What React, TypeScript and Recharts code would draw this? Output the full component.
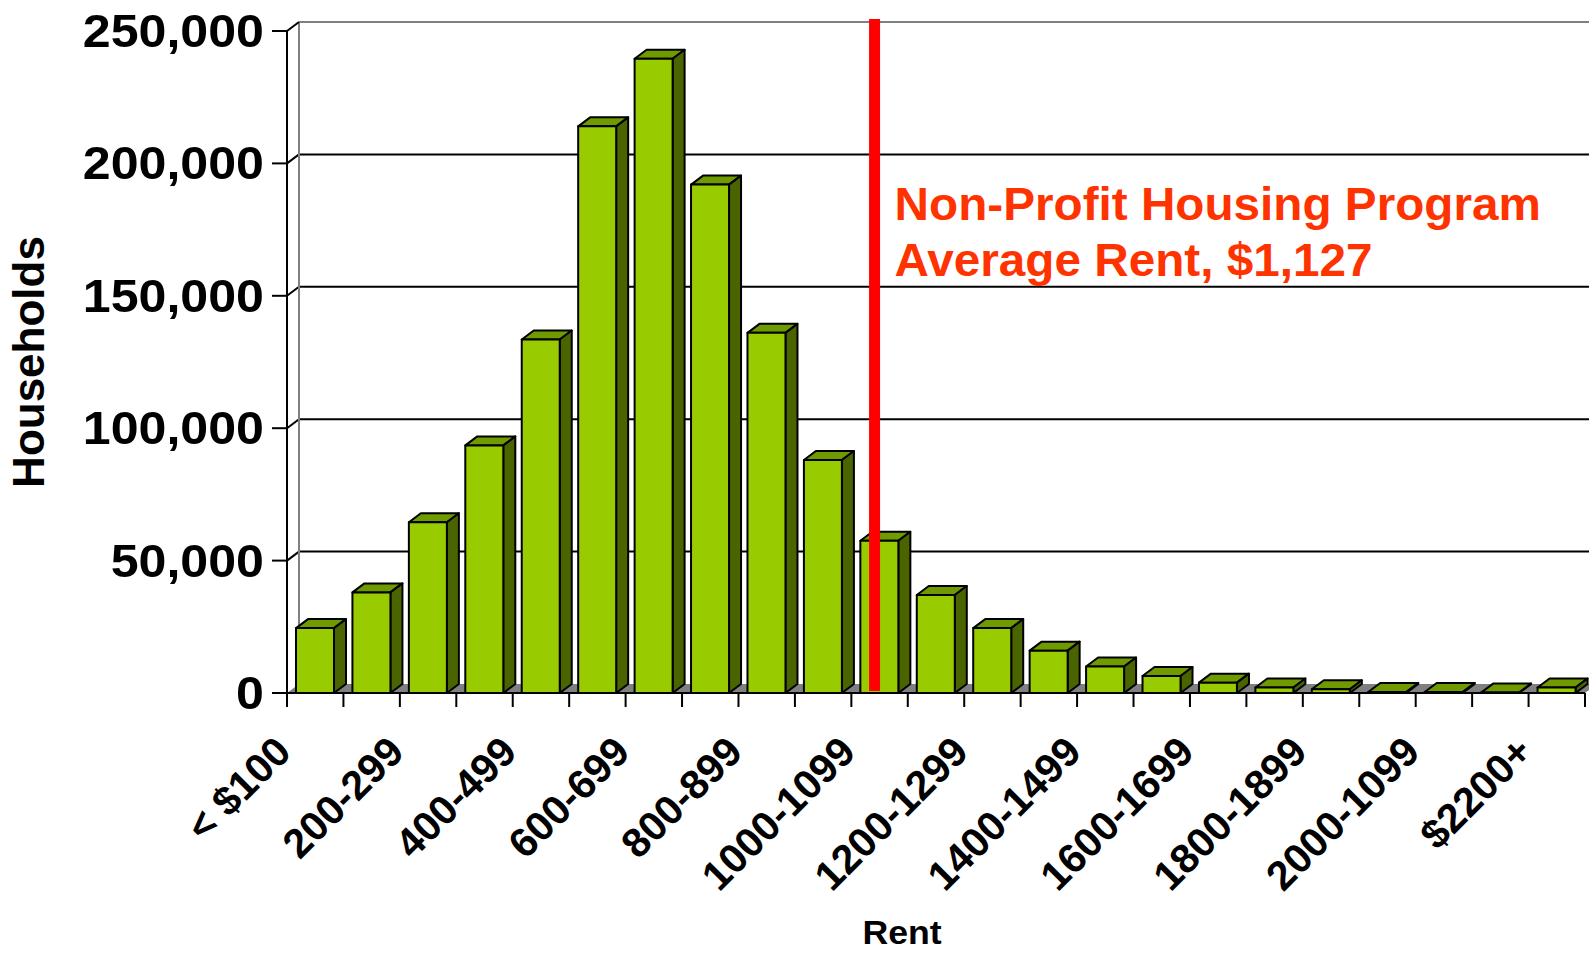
import React from 'react';
import { BarChart, Bar, XAxis, YAxis, CartesianGrid, ReferenceLine, Label } from 'recharts';

const categories = [
  '< $100', '100-199', '200-299', '300-399', '400-499', '500-599', '600-699',
  '700-799', '800-899', '900-999', '1000-1099', '1100-1199', '1200-1299',
  '1300-1399', '1400-1499', '1500-1599', '1600-1699', '1700-1799', '1800-1899',
  '1900-1999', '2000-1099', '2100-2199', '$2200+',
];
const households = [
  24500, 38000, 64500, 93500, 133500, 214000, 239500, 192000, 136000, 88000,
  57500, 37000, 24500, 16000, 10000, 6400, 3900, 2100, 1400, 400, 400, 150, 2100,
];
const yTicks = [0, 50000, 100000, 150000, 200000, 250000];
const markerCategory = '1000-1099';
const markerText = ['Non-Profit Housing Program', 'Average Rent, $1,127'];
const yAxisTitle = 'Households';
const xAxisTitle = 'Rent';

const data = categories.map((c, i) => ({ category: c, households: households[i] }));

const W = 1589;
const H = 954;
const PLOT_LEFT = 287;
const PLOT_RIGHT = 1585;
const PLOT_TOP = 31;
const PLOT_BOTTOM = 693;
const DX = 12;
const DY = 9;
const FONT = '"Liberation Sans", Arial, Helvetica, sans-serif';

const fmt = (v: number) => v.toLocaleString('en-US');

const Bar3D = (props: any) => {
  const { x, y, width, height } = props;
  if (x == null || y == null) return null;
  const h = Math.max(height || 0, 0);
  return (
    <g stroke="#000" strokeWidth={2} strokeLinejoin="round">
      <polygon
        points={`${x},${y} ${x + DX},${y - DY} ${x + width + DX},${y - DY} ${x + width},${y}`}
        fill="#6f9a00"
      />
      <polygon
        points={`${x + width},${y} ${x + width + DX},${y - DY} ${x + width + DX},${y + h - DY} ${x + width},${y + h}`}
        fill="#4a6400"
      />
      <rect x={x} y={y} width={width} height={h} fill="#99cc00" />
    </g>
  );
};

const gridLine = (p: any) => {
  const { x1, x2, y1 } = p;
  const isTop = Math.abs(y1 - PLOT_TOP) < 1;
  const isFloor = Math.abs(y1 - PLOT_BOTTOM) < 1;
  if (isFloor) {
    return (
      <polygon
        points={`${x1},${y1} ${x2},${y1} ${x2 + DX},${y1 - DY} ${x1 + DX},${y1 - DY}`}
        fill="#808080"
        stroke="none"
      />
    );
  }
  return (
    <g>
      {isTop && (
        <line x1={x1 + DX} y1={y1 - DY} x2={x1 + DX} y2={PLOT_BOTTOM - DY} stroke="#808080" strokeWidth={2} />
      )}
      <line x1={x1 + DX} y1={y1 - DY} x2={x2 + DX + 30} y2={y1 - DY} stroke={isTop ? '#808080' : '#000'} strokeWidth={2} />
      <line x1={x1} y1={y1} x2={x1 + DX} y2={y1 - DY} stroke="#000" strokeWidth={2} />
    </g>
  );
};

const XTick = (p: any) => {
  const { x, y, payload, index } = p;
  const half = payload && payload.offset ? payload.offset : (PLOT_RIGHT - PLOT_LEFT) / categories.length / 2;
  const tx = x - 22;
  const ty = y + 61;
  return (
    <g>
      <line x1={x - half} y1={y} x2={x - half} y2={y + 14} stroke="#000" strokeWidth={2} />
      {index === categories.length - 1 && (
        <line x1={x + half} y1={y} x2={x + half} y2={y + 14} stroke="#000" strokeWidth={2} />
      )}
      {index % 2 === 0 && (
        <text
          x={tx}
          y={ty}
          transform={`rotate(-45, ${tx}, ${ty})`}
          textAnchor="end"
          fontFamily={FONT}
          fontWeight={700}
          fontSize={41}
          fill="#000"
        >
          {payload.value}
        </text>
      )}
    </g>
  );
};

const YTick = (p: any) => {
  const { x, y, payload } = p;
  return (
    <text
      x={0}
      y={0}
      transform={`translate(${x - 8}, ${y + 16}) scale(1.09, 1)`}
      textAnchor="end"
      fontFamily={FONT}
      fontWeight={700}
      fontSize={46}
      fill="#000"
    >
      {fmt(payload.value)}
    </text>
  );
};

const YTitle = (p: any) => (
  <text
    x={44}
    y={362}
    transform="rotate(-90, 44, 362)"
    textAnchor="middle"
    fontFamily={FONT}
    fontWeight={700}
    fontSize={44}
    fill="#000"
  >
    {p.value}
  </text>
);

const XTitle = (p: any) => (
  <text
    x={0}
    y={0}
    transform="translate(902, 944) scale(1.08, 1)"
    textAnchor="middle"
    fontFamily={FONT}
    fontWeight={700}
    fontSize={33}
    fill="#000"
  >
    {p.value}
  </text>
);

const MarkerShape = (p: any) => {
  const { x1, y1, y2 } = p;
  const top = Math.min(y1, y2);
  const bottom = Math.max(y1, y2);
  const lx = x1 - 5;
  return (
    <g>
      <line x1={lx} y1={top - 12} x2={lx} y2={bottom - 2} stroke="#ff0000" strokeWidth={11} />
      {markerText.map((t, i) => (
        <text
          key={i}
          x={0}
          y={0}
          transform={`translate(${lx + 20}, ${top + 189 + i * 56}) scale(1.037, 1)`}
          fontFamily={FONT}
          fontWeight={700}
          fontSize={46}
          fill="#ff3300"
        >
          {t}
        </text>
      ))}
    </g>
  );
};

export default function App() {
  return (
    <div style={{ position: 'absolute', left: 0, top: 0, width: W, height: H, background: '#fff' }}>
      <BarChart
        width={W}
        height={H}
        data={data}
        margin={{ top: PLOT_TOP, right: W - PLOT_RIGHT, bottom: 0, left: PLOT_LEFT - 200 }}
        barSize={38}
      >
        <CartesianGrid horizontal={gridLine} vertical={false} />
        <YAxis
          width={200}
          domain={[0, 250000]}
          ticks={yTicks}
          tickSize={15}
          tickMargin={0}
          tick={YTick}
          axisLine={{ stroke: '#000', strokeWidth: 2 }}
          tickLine={{ stroke: '#000', strokeWidth: 2 }}
          label={<Label value={yAxisTitle} content={YTitle} />}
        />
        <XAxis
          dataKey="category"
          height={H - PLOT_BOTTOM}
          interval={0}
          tickSize={0}
          tickMargin={0}
          tickLine={false}
          tick={XTick}
          axisLine={{ stroke: '#000', strokeWidth: 2 }}
          label={<Label value={xAxisTitle} content={XTitle} />}
        />
        <Bar dataKey="households" shape={Bar3D} isAnimationActive={false} />
        <ReferenceLine x={markerCategory} shape={MarkerShape} ifOverflow="visible" />
      </BarChart>
    </div>
  );
}
